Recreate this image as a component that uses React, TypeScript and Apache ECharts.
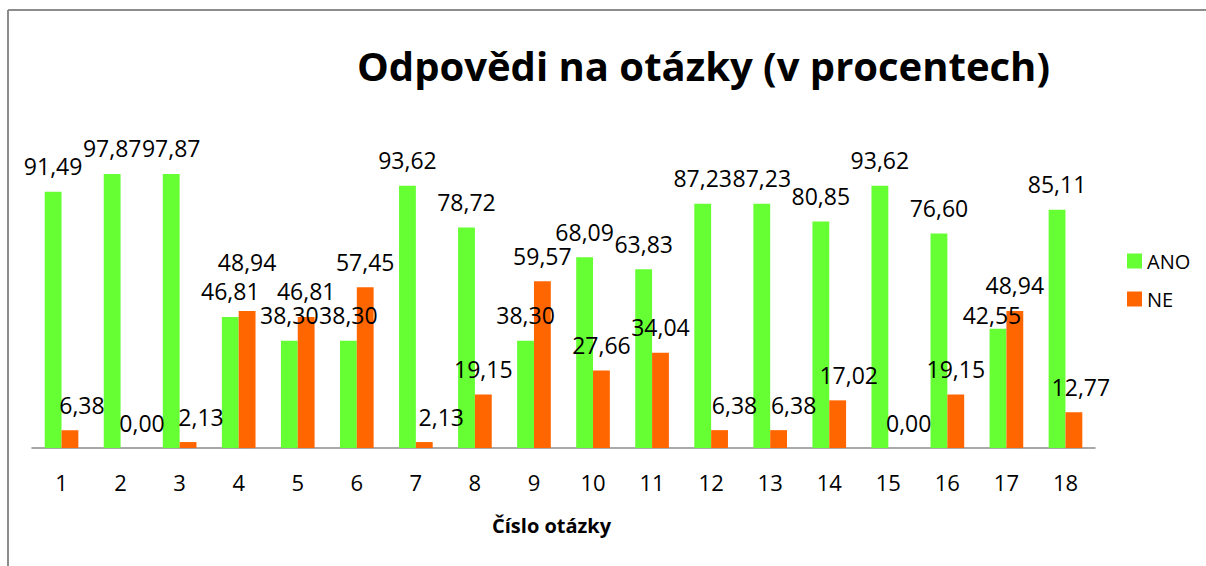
import React, { useEffect, useRef } from "react";
import * as echarts from "echarts";

const categories = ["1","2","3","4","5","6","7","8","9","10","11","12","13","14","15","16","17","18"];
const anoValues = [91.49, 97.87, 97.87, 46.81, 38.30, 38.30, 93.62, 78.72, 38.30, 68.09, 63.83, 87.23, 87.23, 80.85, 93.62, 76.60, 42.55, 85.11];
const neValues = [6.38, 0.00, 2.13, 48.94, 46.81, 57.45, 2.13, 19.15, 59.57, 27.66, 34.04, 6.38, 6.38, 17.02, 0.00, 19.15, 48.94, 12.77];

// manual label nudges (as in the original Excel chart)
const anoLabelShift: Record<number, [number, number]> = { 16: [-6, 12] };
const neLabelShift: Record<number, [number, number]> = {
  0: [12, 0], 1: [13, 0], 2: [13, 0], 3: [0, -23], 6: [17, 0],
  11: [15, 0], 12: [15, 0], 13: [11, 0], 14: [12, 0], 17: [7, 0],
};

const FONT = "Open Sans";
const fmt = (p: any) => Number(p.value).toFixed(2).replace(".", ",");

export default function App() {
  const ref = useRef<HTMLDivElement>(null);
  useEffect(() => {
    if (!ref.current) return;
    const chart = echarts.init(ref.current, null, { renderer: "svg" });
    const mk = (vals: number[], shift: Record<number, [number, number]>) =>
      vals.map((v, i) => (shift[i] ? { value: v, label: { offset: shift[i] } } : { value: v }));
    const labelCfg = {
      show: true,
      position: "top",
      distance: 14,
      formatter: fmt,
      fontFamily: FONT,
      fontSize: 23,
      color: "#000",
    };
    chart.setOption({
      animation: false,
      backgroundColor: "#fff",
      title: {
        text: "Odpovědi na otázky (v procentech)",
        left: 352,
        top: 40,
        textStyle: { fontFamily: FONT, fontWeight: "bold", fontSize: 40, color: "#000" },
      },
      legend: {
        orient: "vertical",
        left: 1127,
        top: 251,
        padding: 0,
        itemWidth: 15,
        itemHeight: 15,
        itemGap: 18,
        icon: "rect",
        textStyle: { fontFamily: FONT, fontSize: 20, color: "#000" },
        data: ["ANO", "NE"],
      },
      grid: { left: 32, right: 111, top: 168, bottom: 118, containLabel: false },
      xAxis: {
        type: "category",
        data: categories,
        axisLine: { lineStyle: { color: "#8c8c8c", width: 1.5 } },
        axisTick: { length: 8, lineStyle: { color: "#8c8c8c", width: 1.5 } },
        axisLabel: { fontFamily: FONT, fontSize: 22, color: "#000", margin: 23 },
      },
      yAxis: { type: "value", min: 0, max: 100, show: false },
      graphic: [
        { type: "line", shape: { x1: 8, y1: 10, x2: 8, y2: 566 }, style: { stroke: "#8c8c8c", lineWidth: 2 } },
        { type: "line", shape: { x1: 8, y1: 10, x2: 1206, y2: 10 }, style: { stroke: "#8c8c8c", lineWidth: 2 } },
        {
          type: "text",
          left: 492,
          top: 515,
          style: { text: "Číslo otázky", fontFamily: FONT, fontWeight: "bold", fontSize: 20, fill: "#000" },
        },
      ],
      series: [
        {
          name: "ANO",
          type: "bar",
          data: mk(anoValues, anoLabelShift),
          itemStyle: { color: "#66FF33" },
          barGap: "0%",
          barCategoryGap: "43%",
          label: labelCfg,
        },
        {
          name: "NE",
          type: "bar",
          data: mk(neValues, neLabelShift),
          itemStyle: { color: "#FF6600" },
          barGap: "0%",
          barCategoryGap: "43%",
          label: labelCfg,
        },
      ],
    });
    return () => chart.dispose();
  }, []);
  return (
    <div
      ref={ref}
      style={{ position: "fixed", left: 0, top: 0, width: 1206, height: 566 }}
    />
  );
}
